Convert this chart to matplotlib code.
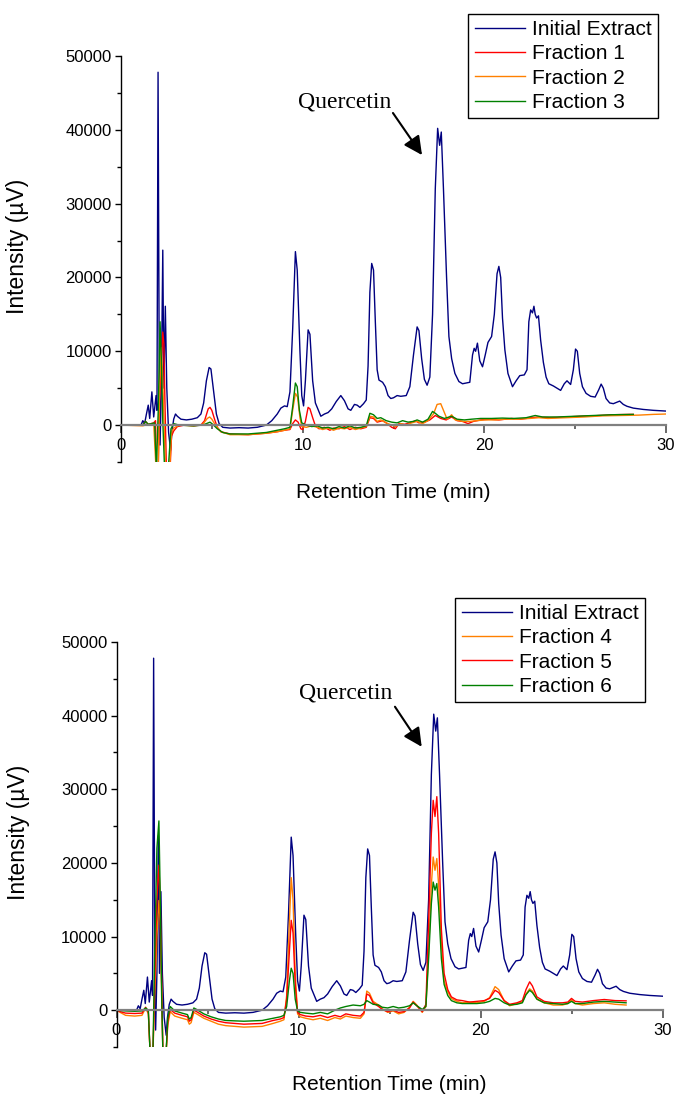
import matplotlib
matplotlib.use("Agg")
import matplotlib.pyplot as plt
from matplotlib.ticker import MultipleLocator

plt.rcParams['font.family'] = ['Liberation Sans', 'DejaVu Sans']

# ---------------- data ----------------
ie_time = [0.0, 1.0, 1.12, 1.2, 1.3, 1.4, 1.5, 1.58, 1.7, 1.8, 1.93, 1.98, 2.04, 2.1, 2.15,
           2.22, 2.3, 2.36, 2.44, 2.52, 2.62, 2.73, 2.8, 2.9, 3.0, 3.1, 3.3, 3.6, 3.9, 4.2,
           4.4, 4.55, 4.7, 4.85, 4.95, 5.1, 5.25, 5.4, 5.6, 6.0, 6.5, 7.0, 7.5, 8.0, 8.3,
           8.6, 8.8, 9.0, 9.15, 9.3, 9.45, 9.6, 9.7, 9.85, 9.95, 10.05, 10.15, 10.3, 10.4,
           10.55, 10.7, 10.9, 11.0, 11.2, 11.4, 11.6, 11.85, 12.1, 12.3, 12.5, 12.65, 12.85,
           13.0, 13.15, 13.35, 13.5, 13.6, 13.7, 13.8, 13.9, 14.0, 14.1, 14.2, 14.4, 14.55,
           14.7, 14.85, 15.0, 15.2, 15.4, 15.7, 15.9, 16.1, 16.3, 16.4, 16.55, 16.7, 16.85,
           17.0, 17.15, 17.3, 17.43, 17.54, 17.63, 17.75, 17.92, 18.05, 18.2, 18.38, 18.6,
           18.8, 19.0, 19.2, 19.35, 19.44, 19.52, 19.62, 19.75, 19.9, 20.05, 20.2, 20.4,
           20.55, 20.7, 20.8, 20.9, 21.0, 21.13, 21.3, 21.55, 21.75, 21.95, 22.2, 22.35,
           22.45, 22.55, 22.65, 22.73, 22.8, 22.88, 22.98, 23.1, 23.25, 23.4, 23.55, 23.8,
           24.0, 24.2, 24.4, 24.55, 24.75, 24.9, 25.02, 25.12, 25.25, 25.4, 25.6, 25.85,
           26.1, 26.3, 26.43, 26.55, 26.7, 26.9, 27.1, 27.3, 27.45, 27.65, 27.85, 28.2,
           28.75, 29.3, 30.0]
ie_int = [0, 0, 100, 600, 200, 1500, 2700, 900, 4500, 1100, 4000, 2000, 47800, 10000, -2700,
          5000, 23700, 5000, 16100, 5000, -1000, -3400, -1000, 800, 1500, 1200, 800, 700, 800, 1000,
          1500, 3000, 6000, 7800, 7600, 4500, 1500, 200, -300, -400, -350, -400, -300, 0, 600,
          1500, 2300, 2600, 2500, 4500, 13000, 23500, 21000, 10000, 4000, 2600, 6000, 12900, 12300,
          6000, 3000, 1800, 1200, 1500, 1700, 2200, 3200, 4000, 3300, 2200, 2000, 2800,
          2700, 2400, 2900, 3400, 8000, 18000, 21900, 21000, 14000, 7500, 6100, 5800, 5200,
          4000, 3600, 3700, 4000, 3900, 4000, 5200, 9500, 13300, 12800, 9000, 6200, 5400,
          6500, 15000, 32000, 40200, 37900, 39700, 32000, 20100, 12000, 9000, 7000, 5900,
          5600, 5700, 5800, 9500, 10400, 10000, 11100, 8700, 7900, 9500, 11200, 12000,
          15000, 20500, 21500, 20000, 14500, 10200, 7000, 5200, 6000, 6700, 6800, 7500,
          14000, 15600, 15200, 16100, 15000, 14500, 14800, 11500, 8500, 6500, 5600, 5300,
          5000, 4700, 5600, 6000, 5500, 7500, 10300, 10000, 7000, 5200, 4300, 3900,
          3800, 4800, 5550, 5000, 3600, 3000, 2900, 3100, 3250, 2800, 2550, 2300,
          2120, 2000, 1900]

f1_time = [0, 1.2, 1.35, 1.5, 1.8, 1.9, 1.95, 2.05, 2.12, 2.22, 2.3, 2.36, 2.42, 2.5, 2.7, 2.78,
           2.9, 3.1, 3.5, 4.0, 4.4, 4.6, 4.8, 4.9, 5.0, 5.15, 5.3, 5.5, 6.0, 7.0, 8.0, 8.6, 9.0,
           9.3, 9.45, 9.6, 9.75, 9.9, 10.0, 10.15, 10.3, 10.4, 10.55, 10.7, 10.9, 11.2, 11.5,
           11.7, 12.0, 12.3, 12.6, 12.9, 13.2, 13.5, 13.7, 13.9, 14.1, 14.4, 14.6, 14.9, 15.1,
           15.3, 15.6, 15.9, 16.2, 16.4, 16.7, 17.0, 17.3, 17.6, 17.9, 18.2, 18.5, 18.8, 19.1,
           19.4, 19.8, 20.3, 20.8, 21.5, 22.0, 22.6, 23.0, 23.6, 24.5, 25.3, 26.0, 27.0, 28.0, 28.2]
f1_int = [0, 0, 500, 100, 300, 600, -6000, -6000, 3000, 8000, 12600, 11000, 3000, -6000, -6000, -1500,
          -800, -200, 0, -100, 0, 600, 2200, 2400, 2000, 800, -300, -900, -1200, -1300, -1100, -900, -700,
          -600, 200, 700, 400, -500, -600, 500, 2400, 2200, 1000, -100, -500, -300, -700,
          -400, -500, -200, -600, -300, -500, -300, 1000, 900, 400, 600, 300, -300, -500,
          200, 100, 300, 600, 300, 400, 700, 1300, 900, 700, 1100, 600, 500, 200,
          500, 700, 800, 700, 900, 800, 1000, 1100, 1000, 1100, 1200, 1250, 1400, 1450, 1450]

f2_time = [0, 1.2, 1.5, 1.8, 1.93, 2.05, 2.12, 2.2, 2.27, 2.35, 2.45, 2.68, 2.78, 2.9, 3.2, 4.0,
           4.5, 4.75, 4.88, 5.0, 5.2, 5.5, 6.0, 7.0, 8.0, 8.6, 9.0, 9.3, 9.45, 9.6, 9.72, 9.85,
           9.95, 10.2, 10.5, 10.8, 11.1, 11.4, 11.7, 12.0, 12.3, 12.6, 12.9, 13.2, 13.5, 13.7,
           13.9, 14.1, 14.3, 14.6, 14.9, 15.1, 15.4, 15.7, 16.0, 16.3, 16.6, 16.9, 17.2, 17.4,
           17.6, 17.75, 17.95, 18.2, 18.4, 18.8, 19.2, 19.6, 20.0, 20.6, 21.2, 21.8, 22.5, 23.0,
           23.5, 24.5, 25.5, 26.5, 27.5, 28.5, 29.3, 30.0]
f2_int = [0, -100, 100, 200, -6000, -6000, 5000, 10500, 8000, 2000, -6000, -6000, -1000, -400, 0, -100,
          100, 900, 1100, 800, 0, -900, -1300, -1300, -1100, -900, -700, -500, 2000, 4300, 3800, 1000,
          -200, -300, -100, -300, -600, -400, -700, -400, -500, -300, -600, -400, -200, 1200,
          1100, 500, 700, 300, 0, -200, 200, 0, 300, 500, 200, 600, 1500, 2800,
          2900, 2000, 800, 1400, 700, 500, 500, 600, 700, 700, 800, 800, 900, 1000,
          900, 1000, 1100, 1250, 1300, 1350, 1450, 1500]

f3_time = [0, 1.2, 1.35, 1.5, 1.85, 1.95, 2.05, 2.15, 2.22, 2.3, 2.4, 2.6, 2.75, 2.9, 3.2, 4.0,
           4.5, 4.8, 4.9, 5.05, 5.3, 5.6, 6.0, 7.0, 8.0, 8.6, 9.0, 9.3, 9.45, 9.6, 9.7, 9.82,
           9.95, 10.2, 10.5, 10.8, 11.1, 11.4, 11.7, 12.0, 12.3, 12.6, 12.9, 13.2, 13.5, 13.7,
           13.9, 14.1, 14.3, 14.6, 14.9, 15.2, 15.5, 15.8, 16.1, 16.3, 16.6, 16.9, 17.15, 17.3,
           17.5, 17.8, 18.2, 18.5, 18.9, 19.3, 19.8, 20.4, 21.0, 21.6, 22.3, 22.8, 23.2, 24.0,
           25.0, 26.0, 27.0, 28.2]
f3_int = [0, 0, 500, 100, 300, -6000, 2000, 14000, 9000, 500, -6000, -6000, -500, 200, 0, -100,
          0, 300, 400, 100, -500, -1000, -1200, -1200, -1000, -700, -500, -300, 2500, 5700, 5200, 2000,
          300, 0, -200, -100, -400, -300, -500, -200, -400, -100, -400, -300, -100, 1600,
          1400, 900, 1000, 600, 400, 300, 600, 400, 500, 700, 400, 800, 1850, 1600,
          1200, 900, 1200, 800, 700, 800, 900, 900, 950, 900, 1000, 1300, 1100, 1100,
          1200, 1300, 1400, 1450]

bot_time = [0, 0.2, 0.5, 1.0, 1.4, 1.6, 1.75, 1.85, 2.0, 2.1, 2.22, 2.33, 2.4, 2.48, 2.55, 2.72,
            2.82, 2.95, 3.2, 3.6, 3.9, 4.0, 4.1, 4.25, 4.4, 4.8, 5.2, 5.6, 6.0, 7.0, 8.0, 8.6,
            9.0, 9.2, 9.35, 9.5, 9.6, 9.7, 9.82, 9.95, 10.1, 10.4, 10.8, 11.2, 11.6, 12.0, 12.3,
            12.6, 13.0, 13.4, 13.6, 13.75, 13.9, 14.1, 14.4, 14.6, 14.9, 15.2, 15.5, 15.8, 16.1,
            16.3, 16.5, 16.8, 17.0, 17.15, 17.3, 17.4, 17.5, 17.6, 17.7, 17.85, 18.0, 18.2, 18.4,
            18.7, 19.0, 19.4, 19.8, 20.2, 20.5, 20.8, 21.0, 21.3, 21.6, 22.0, 22.3, 22.5, 22.7,
            22.85, 23.1, 23.5, 24.0, 24.5, 24.8, 25.0, 25.2, 25.6, 26.2, 26.8, 27.4, 28.0]
f4_int = [0, -300, -700, -800, -700, 300, -500, -6000, -6000, 2000, 10000, 14900, 12000, 3000, -6000, -6000,
          -2000, -200, -800, -1100, -1300, -1900, -1700, -300, -500, -1100, -1500, -1900, -2100, -2300, -2200, -1800,
          -1500, -1300, 2000, 12000, 18000, 15000, 5000, -500, -900, -1100, -1300, -1100, -1400, -1000, -1200,
          -800, -1000, -1100, -500, 2600, 2300, 1200, 700, 200, -300, -100, -500, -300, 400,
          1200, 700, -300, 500, 8000, 17000, 20800, 19000, 20600, 17000, 9000, 4000, 2500, 1600,
          1200, 1000, 1100, 1000, 1200, 1700, 3200, 2800, 1300, 600, 900, 1100, 2200, 2900,
          2600, 1500, 1000, 700, 700, 900, 1400, 900, 700, 900, 1000, 800, 700]
f5_int = [0, -200, -400, -450, -400, 400, -300, -6000, -6000, 4000, 15000, 19700, 15000, 4000, -6000, -6000,
          -1500, 100, -400, -700, -900, -1500, -1300, 0, -200, -800, -1200, -1500, -1700, -1900, -1800, -1400,
          -1200, -1000, 1500, 8000, 12200, 10500, 3500, -300, -600, -800, -900, -700, -1000, -700, -900,
          -500, -700, -800, -300, 2200, 2000, 1000, 500, 100, -200, 0, -300, -200, 300,
          1100, 600, -200, 800, 12000, 24000, 28500, 26300, 29000, 24000, 11000, 5000, 2800, 1800,
          1400, 1300, 1100, 1200, 1300, 1600, 2700, 2400, 1300, 800, 1000, 1300, 2800, 3850,
          3300, 1800, 1200, 1000, 1000, 1100, 1600, 1200, 1100, 1300, 1450, 1300, 1270]
f6_int = [0, -50, -100, -150, -100, 300, 0, -6000, -6000, 8000, 22000, 25700, 16000, 2000, -6000, -6000,
          -1000, 500, -100, -400, -600, -1200, -1000, 300, 100, -500, -900, -1200, -1400, -1500, -1400, -1100,
          -900, -700, 500, 4000, 5700, 5000, 1500, -100, -300, -400, -500, -300, -500, 0, 300,
          500, 700, 600, 800, 1300, 1100, 800, 700, 400, 300, 500, 300, 400, 600,
          1000, 600, 100, 500, 7000, 14500, 17400, 16300, 17200, 14000, 7000, 3500, 2000, 1300,
          1000, 900, 900, 900, 1000, 1200, 1600, 1500, 1000, 700, 800, 1000, 2100, 2700,
          2400, 1500, 1000, 900, 800, 900, 1200, 900, 900, 1100, 1200, 1100, 1000]

top_series = [("Initial Extract", ie_time, ie_int, "#000080"),
              ("Fraction 1", f1_time, f1_int, "#FF0000"),
              ("Fraction 2", f2_time, f2_int, "#FF8000"),
              ("Fraction 3", f3_time, f3_int, "#008000")]
bot_series = [("Initial Extract", ie_time, ie_int, "#000080"),
              ("Fraction 4", bot_time, f4_int, "#FF8000"),
              ("Fraction 5", bot_time, f5_int, "#FF0000"),
              ("Fraction 6", bot_time, f6_int, "#008000")]

# ---------------- figure ----------------
W, H = 675, 1098
fig = plt.figure(figsize=(W / 100, H / 100), dpi=100)


def px_rect(l, t, r, b):
    return [l / W, 1 - b / H, (r - l) / W, (b - t) / H]


def style_axes(ax, ylab_x, xlab_y):
    ax.set_xlim(0, 30)
    ax.set_ylim(-5000, 50000)
    for s in ("top", "right"):
        ax.spines[s].set_visible(False)
    ax.spines["left"].set_linewidth(1.0)
    ax.spines["bottom"].set_position(("data", 0))
    ax.spines["bottom"].set_color("#808080")
    ax.spines["bottom"].set_linewidth(1.6)
    ax.xaxis.set_major_locator(MultipleLocator(10))
    ax.xaxis.set_minor_locator(MultipleLocator(5))
    ax.yaxis.set_major_locator(MultipleLocator(10000))
    ax.yaxis.set_minor_locator(MultipleLocator(5000))
    ax.tick_params(axis="x", which="major", direction="out", length=6, width=1.2,
                   color="#505050", labelsize=12, pad=3)
    ax.tick_params(axis="x", which="minor", direction="out", length=3, width=1.2, color="#505050")
    ax.tick_params(axis="y", which="major", direction="out", length=4.5, width=1.0, labelsize=12, pad=2)
    ax.tick_params(axis="y", which="minor", direction="out", length=3, width=1.0)
    ax.set_xlabel("Retention Time (min)", fontsize=15)
    ax.set_ylabel("Intensity (\u00b5V)", fontsize=16.5)
    ax.xaxis.set_label_coords(0.5, xlab_y)
    ax.yaxis.set_label_coords(ylab_x, 0.53)


def draw(ax, series):
    for name, t, v, c in series:
        ax.plot(t, v, color=c, lw=1.0, label=name)


legend_kw = dict(fontsize=15, frameon=True, fancybox=False, edgecolor="black", framealpha=1,
                 borderaxespad=0, borderpad=0.3, labelspacing=0.25, handlelength=2.4,
                 handletextpad=0.35)

ax1 = fig.add_axes(px_rect(121, 56, 666, 462))
style_axes(ax1, -0.168, -0.052)
draw(ax1, top_series)
ax1.legend(loc="upper right", bbox_to_anchor=(658 / W, 1 - 14 / H), bbox_transform=fig.transFigure,
           **legend_kw)
ax1.get_legend().get_frame().set_linewidth(1.0)
ax1.text(12.3, 43770, "Quercetin", family=["Liberation Serif", "DejaVu Serif"], fontsize=17,
         ha="center", va="center")
ax1.annotate("", xy=(16.57, 36580), xytext=(14.97, 42280),
             arrowprops=dict(arrowstyle="-|>", color="black", lw=1.5, mutation_scale=28,
                             shrinkA=0, shrinkB=0))

ax2 = fig.add_axes(px_rect(116.5, 642, 662.5, 1047))
style_axes(ax2, -0.158, -0.069)
draw(ax2, bot_series)
ax2.legend(loc="upper right", bbox_to_anchor=(645 / W, 1 - 598 / H), bbox_transform=fig.transFigure,
           **legend_kw)
ax2.get_legend().get_frame().set_linewidth(1.0)
ax2.text(12.6, 43030, "Quercetin", family=["Liberation Serif", "DejaVu Serif"], fontsize=17,
         ha="center", va="center")
ax2.annotate("", xy=(16.77, 35770), xytext=(15.3, 41210),
             arrowprops=dict(arrowstyle="-|>", color="black", lw=1.5, mutation_scale=28,
                             shrinkA=0, shrinkB=0))

fig.savefig("out.png", dpi=100)
